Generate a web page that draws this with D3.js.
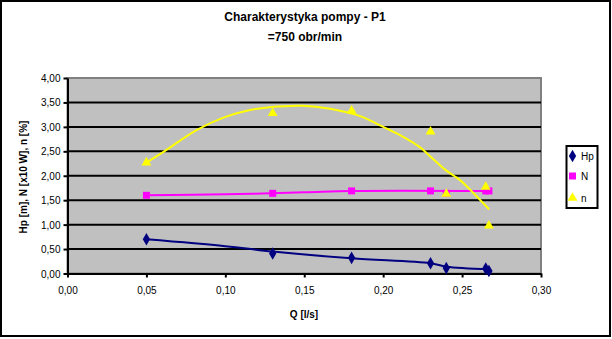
<!DOCTYPE html>
<html>
<head>
<meta charset="utf-8">
<script src="https://cdn.jsdelivr.net/npm/d3@7"></script>
<style>
  html, body { margin: 0; padding: 0; background: #fff; }
  svg { display: block; font-family: "Liberation Sans", Arial, sans-serif; }
</style>
</head>
<body>
<svg id="chart" width="612" height="339"></svg>
<script>
// Measured flow and pump characteristics
const flow = [0.05, 0.13, 0.18, 0.23, 0.24, 0.265, 0.267];
const head = [0.70, 0.41, 0.32, 0.21, 0.11, 0.10, 0.05];
const power = [1.60, 1.64, 1.69, 1.69, 1.64, 1.69, 1.69];
const efficiency = [2.27, 3.28, 3.33, 2.90, 1.63, 1.77, 0.98];

// Trend curves through the measurements
const headTrendQ = [0.05, 0.10, 0.13, 0.18, 0.23, 0.24, 0.267];
const headTrend = [0.70, 0.56, 0.45, 0.31, 0.21, 0.14, 0.09];
const powerTrendQ = [0.05, 0.10, 0.15, 0.18, 0.267];
const powerTrend = [1.60, 1.62, 1.66, 1.69, 1.69];
const effTrendQ = [0.05, 0.0608, 0.082, 0.0988, 0.1136, 0.128, 0.149, 0.1664, 0.1854, 0.198, 0.2107, 0.2234, 0.2297, 0.239, 0.2487, 0.255, 0.2672];
const effTrend = [2.27, 2.49, 2.94, 3.19, 3.33, 3.40, 3.43, 3.37, 3.22, 3.03, 2.83, 2.58, 2.40, 2.13, 1.91, 1.72, 1.31];

const xTicks = [0, 0.05, 0.10, 0.15, 0.20, 0.25, 0.30];
const yTicks = [0, 0.5, 1, 1.5, 2, 2.5, 3, 3.5, 4];
const seriesNames = ["Hp", "N", "n"];

const svg = d3.select("#chart");
const fmt = v => d3.format(".2f")(v).replace(".", ",");

// Outer frame
svg.append("rect").attr("x", 1).attr("y", 1).attr("width", 609).attr("height", 335)
  .attr("fill", "#fff").attr("stroke", "#000").attr("stroke-width", 2);

const x = d3.scaleLinear().domain([0, 0.30]).range([67.5, 541]);
const y = d3.scaleLinear().domain([0, 4]).range([273.5, 78]);

// Plot area
svg.append("rect").attr("x", x(0)).attr("y", y(4)).attr("width", x(0.3) - x(0)).attr("height", y(0) - y(4))
  .attr("fill", "#c0c0c0").attr("stroke", "#808080").attr("stroke-width", 2);

// Gridlines
svg.append("g").selectAll("line").data(yTicks.filter(t => t > 0 && t < 4)).join("line")
  .attr("x1", x(0)).attr("x2", x(0.3)).attr("y1", d => y(d)).attr("y2", d => y(d))
  .attr("stroke", "#000").attr("stroke-width", 2);

// Axes
const xAxis = svg.append("g").attr("transform", `translate(0,${y(0)})`)
  .call(d3.axisBottom(x).tickValues(xTicks).tickFormat(fmt).tickSize(4).tickSizeOuter(0));
const yAxis = svg.append("g").attr("transform", `translate(${x(0)},0)`)
  .call(d3.axisLeft(y).tickValues(yTicks).tickFormat(fmt).tickSize(4).tickSizeOuter(0));
[xAxis, yAxis].forEach(a => {
  a.select(".domain").attr("stroke", "#000").attr("stroke-width", 2);
  a.selectAll(".tick line").attr("stroke", "#000").attr("stroke-width", 2);
  a.selectAll("text").attr("font-family", "Liberation Sans, Arial, sans-serif")
    .attr("font-size", 10).attr("fill", "#000");
});
xAxis.selectAll("text").attr("dy", null).attr("y", 20);
yAxis.selectAll("text").attr("x", -7).attr("dy", "0.35em");

// Trend lines
const line = d3.line().x(d => x(d[0])).y(d => y(d[1])).curve(d3.curveCatmullRom.alpha(0.5));
const trends = [
  [d3.zip(headTrendQ, headTrend), "#000080"],
  [d3.zip(powerTrendQ, powerTrend), "#ff00ff"],
  [d3.zip(effTrendQ, effTrend), "#ffff00"]
];
trends.forEach(([pts, c]) => {
  svg.append("path").attr("d", line(pts)).attr("fill", "none")
    .attr("stroke", c).attr("stroke-width", 2);
});

// Markers
const sym = {
  Hp: d3.symbol().type(d3.symbolDiamond).size(46),
  N: d3.symbol().type(d3.symbolSquare).size(49),
  n: d3.symbol().type(d3.symbolTriangle).size(42)
};
const colors = { Hp: "#000080", N: "#ff00ff", n: "#ffff00" };
const values = { Hp: head, N: power, n: efficiency };
seriesNames.forEach(name => {
  svg.append("g").selectAll("path").data(d3.zip(flow, values[name])).join("path")
    .attr("d", sym[name]())
    .attr("transform", d => `translate(${x(d[0])},${y(d[1])})`)
    .attr("fill", colors[name]);
});

// Titles
svg.append("text").attr("x", 305).attr("y", 21).attr("text-anchor", "middle")
  .attr("font-size", 12).attr("font-weight", "bold").text("Charakterystyka pompy - P1");
svg.append("text").attr("x", 305).attr("y", 41).attr("text-anchor", "middle")
  .attr("font-size", 12).attr("font-weight", "bold").text("=750 obr/min");
svg.append("text").attr("x", 304).attr("y", 318).attr("text-anchor", "middle")
  .attr("font-size", 10).attr("font-weight", "bold").text("Q [l/s]");
svg.append("text").attr("transform", "translate(27,177) rotate(-90)").attr("text-anchor", "middle")
  .attr("font-size", 10).attr("font-weight", "bold").text("Hp [m], N [x10 W], n [%]");

// Legend
const lg = svg.append("g");
lg.append("rect").attr("x", 566.5).attr("y", 146).attr("width", 31).attr("height", 62)
  .attr("fill", "#fff").attr("stroke", "#000").attr("stroke-width", 2);
const legY = [156, 176, 198];
seriesNames.forEach((name, i) => {
  lg.append("path").attr("d", sym[name]())
    .attr("transform", `translate(572.5,${legY[i]})`).attr("fill", colors[name]);
  lg.append("text").attr("x", 581).attr("y", legY[i]).attr("dy", "0.35em")
    .attr("font-size", 10).text(name);
});
</script>
</body>
</html>
